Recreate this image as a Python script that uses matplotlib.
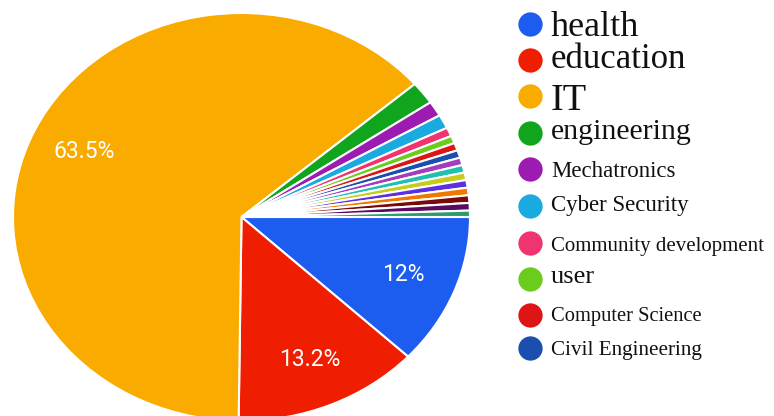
import numpy as np
import matplotlib
matplotlib.use("Agg")
import matplotlib.pyplot as plt

# slice data (percent), clockwise from 3 o'clock
labels = ["health", "education", "IT", "engineering", "Mechatronics",
          "Cyber Security", "Community development", "user",
          "Computer Science", "Civil Engineering"]
values = [12.0, 13.2, 63.5, 1.8, 1.2, 1.1, 0.7, 0.6, 0.6, 0.6]
# remaining small slices (not shown in the legend)
extra_values = [0.6, 0.6, 0.6, 0.6, 0.6, 0.6, 0.6, 0.5]

colors = ["#1c5df0", "#f01e00", "#f9ab00", "#10a51d", "#9c1bb0",
          "#19abe0", "#ef3470", "#6ccc1e", "#dd1515", "#1a4fb0"]
extra_colors = ["#a43cc0", "#1fc0b0", "#c6cc1a", "#5a30e0",
                "#f07800", "#7a0a0a", "#5a0a5f", "#2a9e6a"]

# legend look (font size per row, baseline y in pixels)
legend_sizes = [26, 25, 27.5, 21.5, 16.5, 16.5, 15, 19, 14.8, 15.2]
legend_baselines = [36, 68, 110, 139, 177, 211, 251, 283, 321, 355]
legend_dots = [24, 60, 96, 133, 169, 206, 243, 279, 315, 348]

W, H = 774, 416
fig = plt.figure(figsize=(W / 100, H / 100), dpi=100)

# pie, slightly stretched horizontally and clipped at the bottom
ax = fig.add_axes([13 / W, (H - 421) / H, 457 / W, 408 / H])
all_values = values + extra_values
all_colors = colors + extra_colors


def fmt(p):
    if p < 5:
        return ""
    return "%g%%" % round(p, 1)


wedges, texts, autotexts = ax.pie(
    all_values,
    colors=all_colors,
    startangle=0,
    counterclock=False,
    autopct=fmt,
    pctdistance=0.76,
    wedgeprops=dict(edgecolor="white", linewidth=1.5),
    textprops=dict(color="white", fontsize=16.5, family="Roboto"),
)
ax.set_aspect("auto")
ax.set_xlim(-1, 1)
ax.set_ylim(-1, 1)
ax.axis("off")

# legend drawn by hand (each row has its own font size)
lax = fig.add_axes([0, 0, 1, 1])
lax.set_xlim(0, W)
lax.set_ylim(H, 0)
lax.axis("off")
for lab, col, fs, yb, yd in zip(labels, colors, legend_sizes,
                                legend_baselines, legend_dots):
    lax.plot(530, yd, "o", color=col, markersize=17.5, markeredgewidth=0)
    lax.text(551, yb, lab, fontsize=fs, family="Liberation Serif",
             color="#111111", va="baseline", ha="left")

fig.savefig("out.png", dpi=100)
